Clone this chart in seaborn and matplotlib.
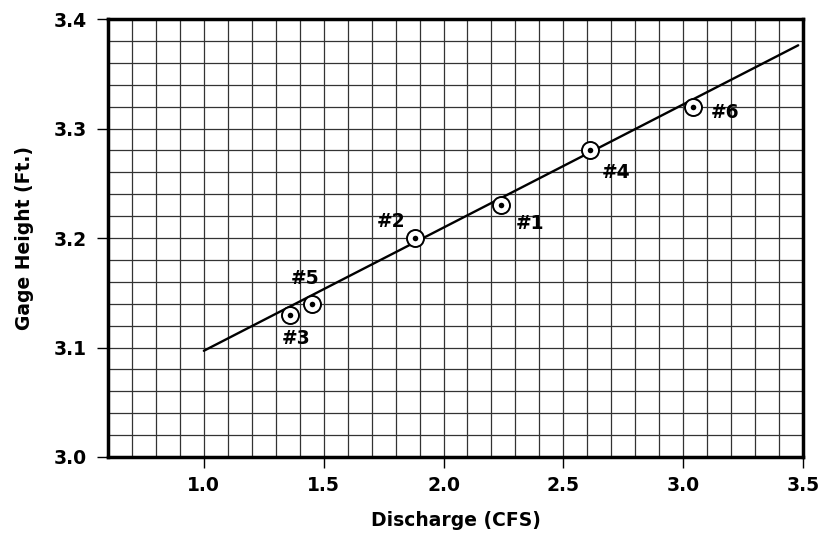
import matplotlib
matplotlib.use("Agg")
import matplotlib.pyplot as plt
import seaborn as sns
import numpy as np
import pandas as pd
from matplotlib.ticker import MultipleLocator

# Data
labels = ["#1", "#2", "#3", "#4", "#5", "#6"]
discharge = [2.24, 1.88, 1.36, 2.61, 1.45, 3.04]
gage_height = [3.23, 3.20, 3.13, 3.28, 3.14, 3.32]
fit_x = [1.0, 3.48]
fit_y = [3.097, 3.376]
x_ticks = [1.0, 1.5, 2.0, 2.5, 3.0, 3.5]
y_ticks = [3.0, 3.1, 3.2, 3.3, 3.4]
# label offsets in points (dx, dy)
label_offsets = {"#1": (21, -13), "#2": (-17, 12), "#3": (4, -17),
                 "#4": (19, -16), "#5": (-5, 18), "#6": (23, -4)}

sns.set_theme(style="white")
plt.rcParams['font.family'] = ['DejaVu Sans']
plt.rcParams['font.weight'] = 'bold'
plt.rcParams['text.color'] = 'black'
plt.rcParams['axes.labelcolor'] = 'black'
plt.rcParams['xtick.color'] = 'black'
plt.rcParams['ytick.color'] = 'black'

FS = 13.5

fig = plt.figure(figsize=(8.23, 5.34), dpi=100)
ax = fig.add_axes([0.1312, 0.1442, 0.8445, 0.8202])

pts = pd.DataFrame({"x": discharge, "y": gage_height, "label": labels})
fit = pd.DataFrame({"x": fit_x, "y": fit_y})

sns.lineplot(data=fit, x="x", y="y", ax=ax, color="black", linewidth=1.7, zorder=3)
sns.scatterplot(data=pts, x="x", y="y", ax=ax, s=150, facecolor="white",
                edgecolor="black", linewidth=1.4, zorder=4)
sns.scatterplot(data=pts, x="x", y="y", ax=ax, s=16, color="black",
                edgecolor="black", linewidth=0, zorder=5)

for lab, x, y in zip(labels, discharge, gage_height):
    dx, dy = label_offsets[lab]
    ax.annotate(lab, (x, y), xytext=(dx, dy), textcoords="offset points",
                ha="center", va="center", fontsize=FS, fontweight="bold",
                color="black")

ax.set_xlim(0.6, 3.5)
ax.set_ylim(3.0, 3.4)
ax.set_xticks(x_ticks)
ax.set_yticks(y_ticks)
ax.set_xticklabels([f"{v:.1f}" for v in x_ticks])
ax.set_yticklabels([f"{v:.1f}" for v in y_ticks])
ax.xaxis.set_minor_locator(MultipleLocator(0.1))
ax.yaxis.set_minor_locator(MultipleLocator(0.02))
ax.grid(which="both", color="#333333", linewidth=0.9)
ax.set_axisbelow(True)
ax.tick_params(axis="both", which="major", direction="out", length=8, width=1,
               color="black", labelcolor="black", labelsize=FS, pad=6,
               bottom=True, left=True)
ax.tick_params(axis="y", which="major", pad=7)
ax.tick_params(axis="both", which="minor", length=0)
for lab in ax.get_xticklabels() + ax.get_yticklabels():
    lab.set_fontweight("bold")

for sp in ax.spines.values():
    sp.set_linewidth(2.5)
    sp.set_color("black")

ax.set_xlabel("Discharge (CFS)", fontsize=FS, fontweight="bold", labelpad=11,
              color="black")
ax.set_ylabel("Gage Height (Ft.)", fontsize=FS, fontweight="bold", labelpad=14,
              color="black")

fig.savefig("out.png", dpi=100)
